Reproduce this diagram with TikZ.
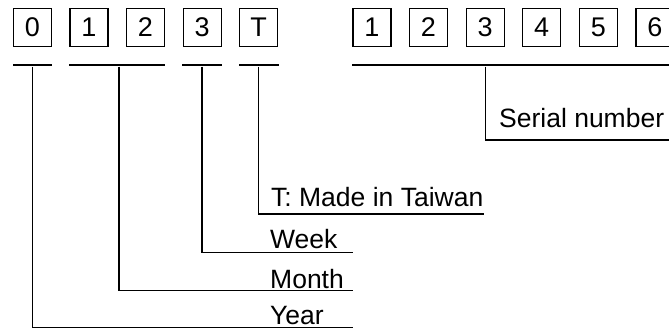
\documentclass[tikz,border=0pt]{standalone}
\usepackage{fontspec}
\setmainfont{Liberation Sans}
\begin{document}
\begin{tikzpicture}[x=1pt,y=-1pt,
  digitbox/.style={draw,line width=1.2pt,minimum width=38pt,minimum height=38pt,inner sep=0pt,font=\fontsize{27}{30}\selectfont},
  barline/.style={fill=black,inner sep=0pt,minimum height=2.8pt},
  lead/.style={line width=1.2pt},
  lbl/.style={anchor=base west,inner sep=0pt,font=\fontsize{26.5}{30}\selectfont}]
\useasboundingbox (0,0) rectangle (669,332);
% boxes
\node[digitbox] (b0) at (32.3,27.5) {0};
\node[digitbox] (b1) at (88.9,27.5) {1};
\node[digitbox] (b2) at (145.5,27.5) {2};
\node[digitbox] (b3) at (202.1,27.5) {3};
\node[digitbox] (b4) at (258.7,27.5) {T};
\node[digitbox] (s1) at (371.9,27.5) {1};
\node[digitbox] (s2) at (428.5,27.5) {2};
\node[digitbox] (s3) at (485.1,27.5) {3};
\node[digitbox] (s4) at (541.7,27.5) {4};
\node[digitbox] (s5) at (598.3,27.5) {5};
\node[digitbox] (s6) at (654.9,27.5) {6};
% bars
\node[barline,minimum width=39.6pt] (r0) at (32.5,65) {};
\node[barline,minimum width=95.7pt] (r12) at (117.2,65) {};
\node[barline,minimum width=40pt] (r3) at (202,65) {};
\node[barline,minimum width=40pt] (r4) at (258.5,65) {};
\node[barline,minimum width=330pt] (rs) at (516.7,65) {};
% labels
\node[lbl] (lserial) at (499,127) {Serial number};
\node[lbl] (ltw) at (271,206) {T: Made in Taiwan};
\node[lbl] (lweek) at (270,248.3) {Week};
\node[lbl] (lmonth) at (270,288.3) {Month};
\node[lbl] (lyear) at (270,324.3) {Year};
% line ends
\coordinate (eserial) at (672,140);
\coordinate (etw) at (484,214);
\coordinate (eweek) at (353.3,252.7);
\coordinate (emonth) at (353.3,290.7);
\coordinate (eyear) at (353.3,327.7);
% leaders
\draw[lead] (s3 |- rs.south) |- (eserial);
\draw[lead] (r4.south) |- (etw);
\draw[lead] (r3.south) |- (eweek);
\draw[lead] ([xshift=1.8pt]r12.south) |- (emonth);
\draw[lead] (r0.south) |- (eyear);
\end{tikzpicture}
\end{document}
